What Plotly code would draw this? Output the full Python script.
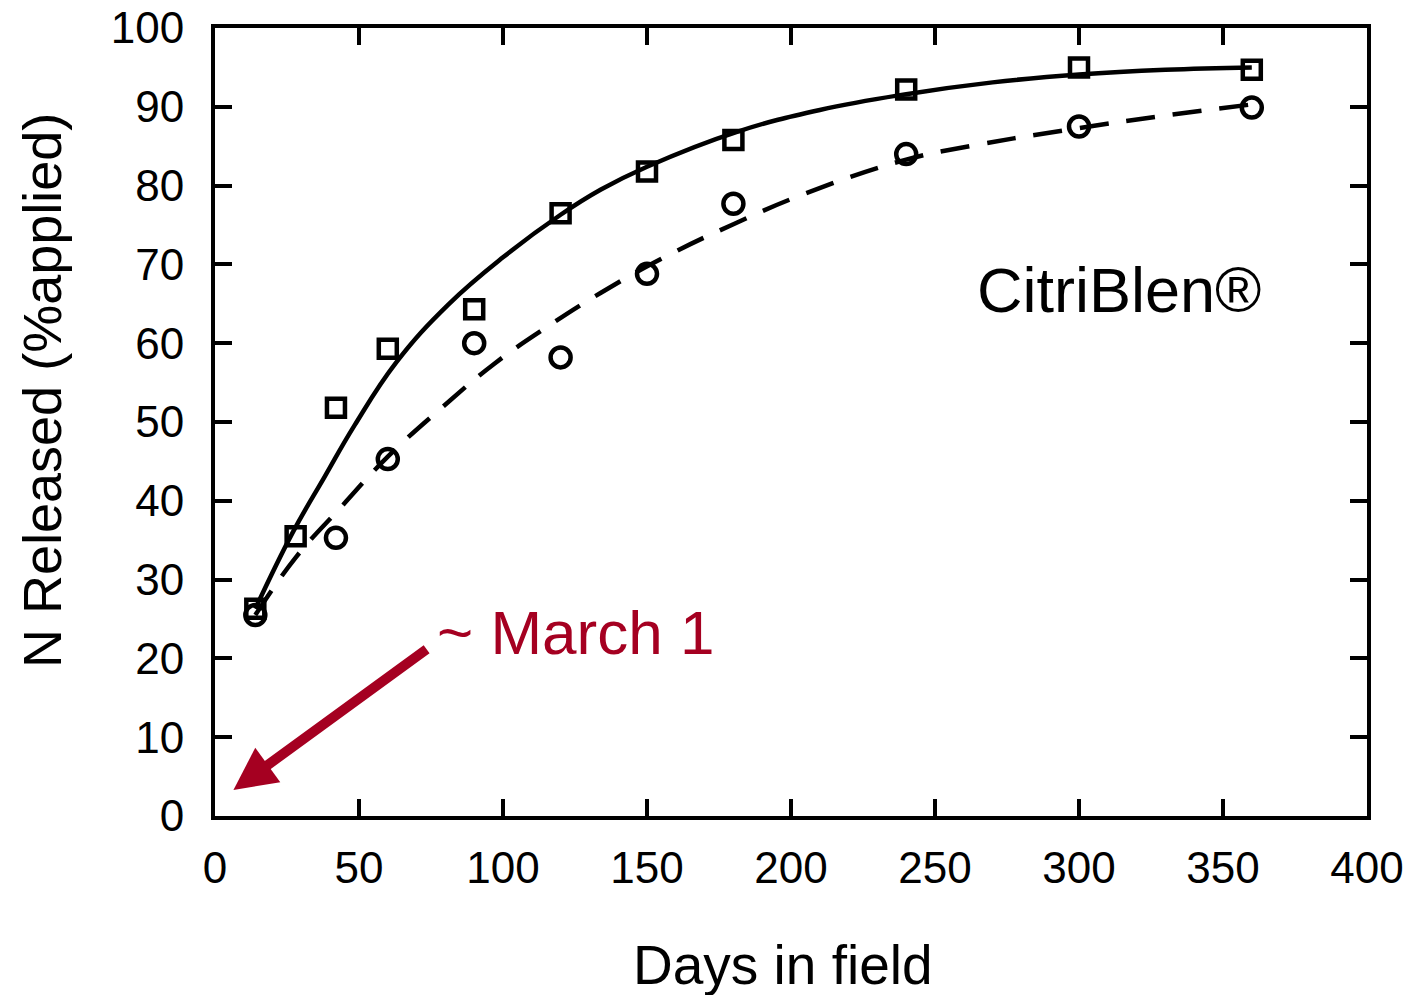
import plotly.graph_objects as go

# Measured data (days in field, % N released)
sq_days = [14, 28, 42, 60, 90, 120, 150, 180, 240, 300, 360]
sq_vals = [26.3, 35.5, 51.8, 59.3, 64.3, 76.5, 81.8, 85.8, 92.2, 95.0, 94.7]

ci_days = [14, 42, 60, 90, 120, 150, 180, 240, 300, 360]
ci_vals = [25.5, 35.3, 45.3, 60.0, 58.2, 68.8, 77.7, 84.0, 87.5, 89.9]

# Fitted curves
fit1_days = [14, 27, 38, 48.5, 63, 81, 100, 120, 134, 150, 181, 210, 240, 270, 300, 330, 360]
fit1_vals = [26.3, 36.0, 43.0, 49.6, 57.6, 64.9, 70.9, 76.3, 79.5, 82.4, 86.8, 89.6, 91.6, 93.1, 94.1, 94.7, 95.0]

fit2_days = [14, 28, 44, 60, 79, 97, 115, 134, 156, 180, 205, 240, 262, 300, 330, 360]
fit2_vals = [25.5, 32.8, 39.3, 45.6, 51.9, 57.4, 62.0, 66.4, 70.9, 75.1, 79.0, 83.3, 85.0, 87.3, 88.9, 90.3]

x_ticks = [0, 50, 100, 150, 200, 250, 300, 350, 400]
y_ticks = [0, 10, 20, 30, 40, 50, 60, 70, 80, 90, 100]

FONT = "Liberation Sans, Arial, sans-serif"
RED = "#A50021"

fig = go.Figure()
fig.add_trace(go.Scatter(x=fit1_days, y=fit1_vals, mode="lines",
                         line=dict(color="black", width=4.5, shape="spline", smoothing=1.2), hoverinfo="skip"))
fig.add_trace(go.Scatter(x=fit2_days, y=fit2_vals, mode="lines",
                         line=dict(color="black", width=4.5, dash="29px,18px", shape="spline", smoothing=1.2), hoverinfo="skip"))
fig.add_trace(go.Scatter(x=sq_days, y=sq_vals, mode="markers",
                         marker=dict(symbol="square-open", size=18, color="black", line=dict(width=4.5, color="black"))))
fig.add_trace(go.Scatter(x=ci_days, y=ci_vals, mode="markers",
                         marker=dict(symbol="circle-open", size=20, color="black", line=dict(width=4.5, color="black"))))

axis_common = dict(showline=True, linecolor="black", linewidth=4, mirror="ticks",
                   ticks="inside", ticklen=17, tickwidth=4, tickcolor="black",
                   showgrid=False, zeroline=False, automargin=False,
                   tickfont=dict(family=FONT, size=44, color="black"))

fig.update_xaxes(range=[0, 400], tickvals=x_ticks, ticktext=[str(v) for v in x_ticks],
                 ticklabelstandoff=10, **axis_common)
fig.update_yaxes(range=[0, 100], tickvals=y_ticks, ticktext=[str(v) for v in y_ticks],
                 ticklabelstandoff=18, **axis_common)

W, H = 1412, 995
ml, mr, mt, mb = 215, 45, 28, 179
pw, ph = W - ml - mr, H - mt - mb

fig.add_annotation(x=6.4, y=3.3, ax=74, ay=21.3, xref="x", yref="y", axref="x", ayref="y",
                   showarrow=True, arrowhead=2, arrowsize=0.85, arrowwidth=10, arrowcolor=RED, text="")
fig.add_annotation(x=76.4, y=23.3, xref="x", yref="y", text="~ March 1", showarrow=False,
                   xanchor="left", yanchor="middle", font=dict(family=FONT, size=62, color=RED))
fig.add_annotation(x=313.9, y=66.75, xref="x", yref="y", text="CitriBlen®", showarrow=False,
                   xanchor="center", yanchor="middle", font=dict(family=FONT, size=63, color="black"))
fig.add_annotation(x=(783 - ml) / pw, y=(H - 965 - mb) / ph, xref="paper", yref="paper",
                   text="Days in field", showarrow=False,
                   xanchor="center", yanchor="middle", font=dict(family=FONT, size=55, color="black"))
fig.add_annotation(x=(42 - ml) / pw, y=(H - 391 - mb) / ph, xref="paper", yref="paper",
                   text="N Released (%applied)", showarrow=False,
                   textangle=-90, xanchor="center", yanchor="middle", font=dict(family=FONT, size=54, color="black"))

fig.update_layout(width=W, height=H, margin=dict(l=ml, r=mr, t=mt, b=mb, autoexpand=False),
                  plot_bgcolor="white", paper_bgcolor="white", showlegend=False,
                  font=dict(family=FONT, color="black"))

fig.write_html("out.html", config={"displayModeBar": False},
               post_script="document.body.style.margin='0';document.body.style.overflow='hidden';"
                           "document.documentElement.style.overflow='hidden';")
